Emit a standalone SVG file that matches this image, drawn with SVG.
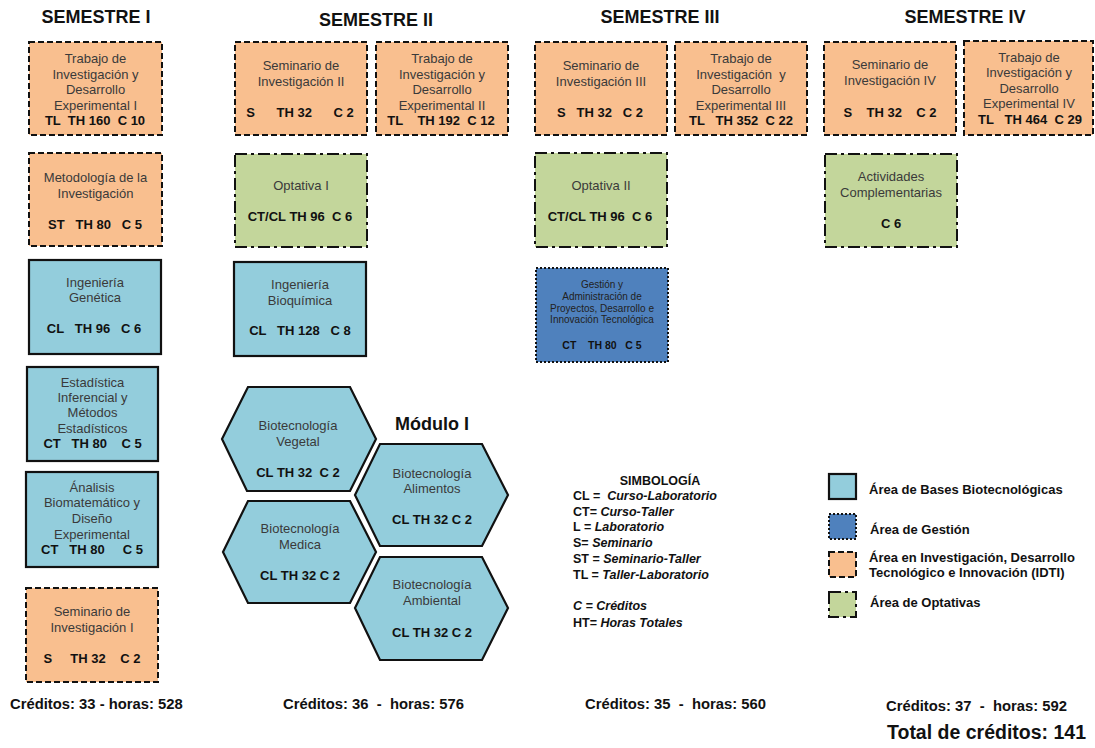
<svg xmlns="http://www.w3.org/2000/svg" width="1095" height="748" viewBox="0 0 1095 748">
<style>
text{font-family:"Liberation Sans",Arial,sans-serif}
.t{font-size:13px;fill:#3a3a3a;text-anchor:middle}
.b{font-size:13px;font-weight:bold;fill:#111;text-anchor:middle;white-space:pre}
.h{font-size:18px;font-weight:bold;fill:#111;text-anchor:middle}
.f{font-size:14.8px;font-weight:bold;fill:#111;white-space:pre}
.s{font-size:12.5px;font-weight:bold;fill:#111;white-space:pre}
.s tspan.i{font-style:italic}
.lg{font-size:13px;font-weight:bold;fill:#111}
.idti{fill:#F9BF8F;stroke:#111;stroke-width:2;stroke-dasharray:6 3}
.base{fill:#93CDDC;stroke:#111;stroke-width:2.2}
.opt{fill:#C3D69B;stroke:#111;stroke-width:2;stroke-dasharray:12 4 3 4}
.gest{fill:#4F81BD;stroke:#111;stroke-width:2;stroke-dasharray:2 2}
.g{font-size:10px;fill:#222;text-anchor:middle}
.gb{font-size:10.5px;font-weight:bold;fill:#111;text-anchor:middle;white-space:pre}
</style>

<g id="titles">
<text class="h" x="96" y="23">SEMESTRE I</text>
<text class="h" x="376" y="26">SEMESTRE II</text>
<text class="h" x="660" y="23">SEMESTRE III</text>
<text class="h" x="965" y="23">SEMESTRE IV</text>
</g>

<!-- Semestre I -->
<g id="s1-trabajo">
<rect class="idti" x="29" y="42" width="133" height="93"/>
<text class="t" x="95.5" y="63">Trabajo de</text>
<text class="t" x="95.5" y="79">Investigación y</text>
<text class="t" x="95.5" y="94">Desarrollo</text>
<text class="t" x="95.5" y="110">Experimental I</text>
<text class="b" x="95" y="125">TL  TH 160  C 10</text>
</g>
<g id="s1-metodologia">
<rect class="idti" x="29" y="153" width="133" height="93"/>
<text class="t" x="95.5" y="182">Metodología de la</text>
<text class="t" x="95.5" y="198">Investigación</text>
<text class="b" x="95" y="229">ST   TH 80   C 5</text>
</g>
<g id="s1-genetica">
<rect class="base" x="29" y="260" width="132" height="94"/>
<text class="t" x="95" y="287">Ingeniería</text>
<text class="t" x="95" y="302">Genética</text>
<text class="b" x="94" y="333">CL   TH 96   C 6</text>
</g>
<g id="s1-estadistica">
<rect class="base" x="27" y="367" width="131" height="94"/>
<text class="t" x="92.5" y="387">Estadística</text>
<text class="t" x="92.5" y="402">Inferencial y</text>
<text class="t" x="92.5" y="417">Métodos</text>
<text class="t" x="92.5" y="433">Estadísticos</text>
<text class="b" x="92.5" y="448">CT   TH 80    C 5</text>
</g>
<g id="s1-analisis">
<rect class="base" x="26" y="472" width="132" height="95"/>
<text class="t" x="92" y="492">Ánalisis</text>
<text class="t" x="92" y="507">Biomatemático y</text>
<text class="t" x="92" y="523">Diseño</text>
<text class="t" x="92" y="539">Experimental</text>
<text class="b" x="92" y="554">CT   TH 80     C 5</text>
</g>
<g id="s1-seminario">
<rect class="idti" x="26" y="588" width="132" height="94"/>
<text class="t" x="92" y="616">Seminario de</text>
<text class="t" x="92" y="632">Investigación I</text>
<text class="b" x="92" y="663">S     TH 32    C 2</text>
</g>

<!-- Semestre II -->
<g id="s2-seminario">
<rect class="idti" x="235" y="42" width="132" height="93"/>
<text class="t" x="301" y="70">Seminario de</text>
<text class="t" x="301" y="86">Investigación II</text>
<text class="b" x="300" y="117">S      TH 32      C 2</text>
</g>
<g id="s2-trabajo">
<rect class="idti" x="376" y="42" width="132" height="93"/>
<text class="t" x="442" y="63">Trabajo de</text>
<text class="t" x="442" y="79">Investigación y</text>
<text class="t" x="442" y="94">Desarrollo</text>
<text class="t" x="442" y="110">Experimental II</text>
<text class="b" x="441" y="125">TL    TH 192  C 12</text>
</g>
<g id="s2-optativa">
<rect class="opt" x="235" y="154" width="132" height="93"/>
<text class="t" x="301" y="190">Optativa I</text>
<text class="b" x="300" y="221">CT/CL TH 96  C 6</text>
</g>
<g id="s2-bioquimica">
<rect class="base" x="234" y="262" width="132" height="94"/>
<text class="t" x="300" y="289">Ingeniería</text>
<text class="t" x="300" y="305">Bioquímica</text>
<text class="b" x="300" y="335">CL   TH 128   C 8</text>
</g>

<text class="h" x="432" y="430">Módulo I</text>
<g id="hex-vegetal">
<polygon class="base" points="248,387 350,387 376,439 350,491 247,491 222,439"/>
<text class="t" x="298" y="430">Biotecnología</text>
<text class="t" x="298" y="446">Vegetal</text>
<text class="b" x="298" y="477">CL TH 32  C 2</text>
</g>
<g id="hex-alimentos">
<polygon class="base" points="380,444 482,444 508,495 482,546 380,546 355,495"/>
<text class="t" x="432" y="478">Biotecnología</text>
<text class="t" x="432" y="493">Alimentos</text>
<text class="b" x="432" y="524">CL TH 32 C 2</text>
</g>
<g id="hex-medica">
<polygon class="base" points="248,501 350,501 376,552 350,603 248,603 223,552"/>
<text class="t" x="300" y="533">Biotecnología</text>
<text class="t" x="300" y="549">Medica</text>
<text class="b" x="300" y="580">CL TH 32 C 2</text>
</g>
<g id="hex-ambiental">
<polygon class="base" points="380,557 482,557 508,608 482,660 380,660 355,608"/>
<text class="t" x="432" y="589">Biotecnología</text>
<text class="t" x="432" y="605">Ambiental</text>
<text class="b" x="432" y="637">CL TH 32 C 2</text>
</g>

<!-- Semestre III -->
<g id="s3-seminario">
<rect class="idti" x="535" y="42" width="132" height="93"/>
<text class="t" x="601" y="70">Seminario de</text>
<text class="t" x="601" y="86">Investigación III</text>
<text class="b" x="600" y="117">S   TH 32   C 2</text>
</g>
<g id="s3-trabajo">
<rect class="idti" x="675" y="42" width="132" height="93"/>
<text class="t" x="741" y="63">Trabajo de</text>
<text class="t" x="741" y="79" style="white-space:pre">Investigación  y</text>
<text class="t" x="741" y="94">Desarrollo</text>
<text class="t" x="741" y="110">Experimental III</text>
<text class="b" x="741" y="125">TL   TH 352  C 22</text>
</g>
<g id="s3-optativa">
<rect class="opt" x="535" y="153" width="132" height="94"/>
<text class="t" x="601" y="190">Optativa II</text>
<text class="b" x="600" y="221">CT/CL TH 96  C 6</text>
</g>
<g id="s3-gestion">
<rect class="gest" x="536" y="268" width="132" height="94"/>
<text class="g" x="602" y="288">Gestión y</text>
<text class="g" x="602" y="300">Administración de</text>
<text class="g" x="602" y="312">Proyectos, Desarrollo e</text>
<text class="g" x="602" y="323">Innovación Tecnológica</text>
<text class="gb" x="602" y="349">CT    TH 80   C 5</text>
</g>

<!-- Semestre IV -->
<g id="s4-seminario">
<rect class="idti" x="824" y="42" width="132" height="93"/>
<text class="t" x="890" y="69">Seminario de</text>
<text class="t" x="890" y="85">Investigación IV</text>
<text class="b" x="890" y="117">S    TH 32    C 2</text>
</g>
<g id="s4-trabajo">
<rect class="idti" x="964" y="41" width="129" height="94"/>
<text class="t" x="1029" y="62">Trabajo de</text>
<text class="t" x="1029" y="77">Investigación y</text>
<text class="t" x="1029" y="93">Desarrollo</text>
<text class="t" x="1029" y="108">Experimental IV</text>
<text class="b" x="1030" y="124">TL   TH 464  C 29</text>
</g>
<g id="s4-actividades">
<rect class="opt" x="825" y="154" width="132" height="93"/>
<text class="t" x="891" y="181">Actividades</text>
<text class="t" x="891" y="197">Complementarias</text>
<text class="b" x="891" y="228">C 6</text>
</g>

<!-- Simbología -->
<g id="simbologia">
<text class="s" x="660" y="485" text-anchor="middle">SIMBOLOGÍA</text>
<text class="s" x="573" y="500">CL =  <tspan class="i">Curso-Laboratorio</tspan></text>
<text class="s" x="573" y="516">CT= <tspan class="i">Curso-Taller</tspan></text>
<text class="s" x="573" y="531">L = <tspan class="i">Laboratorio</tspan></text>
<text class="s" x="573" y="547">S= <tspan class="i">Seminario</tspan></text>
<text class="s" x="573" y="563">ST = <tspan class="i">Seminario-Taller</tspan></text>
<text class="s" x="573" y="579">TL = <tspan class="i">Taller-Laboratorio</tspan></text>
<text class="s" x="573" y="610"><tspan class="i">C = Créditos</tspan></text>
<text class="s" x="573" y="627">HT= <tspan class="i">Horas Totales</tspan></text>
</g>

<!-- Leyenda -->
<g id="legend">
<rect class="base" x="829" y="474" width="27" height="25"/>
<text class="lg" x="869" y="494">Área de Bases Biotecnológicas</text>
<rect class="gest" x="829" y="514" width="27" height="25"/>
<text class="lg" x="870" y="534">Área de Gestión</text>
<rect class="idti" x="829" y="552" width="27" height="25"/>
<text class="lg" x="869" y="562">Área en Investigación, Desarrollo</text>
<text class="lg" x="869" y="577">Tecnológico e Innovación (IDTI)</text>
<rect class="opt" x="829" y="592" width="27" height="25"/>
<text class="lg" x="870" y="607">Área de Optativas</text>
</g>

<!-- Totales -->
<g id="totals">
<text class="f" x="10" y="709">Créditos: 33 - horas: 528</text>
<text class="f" x="283" y="709">Créditos: 36  -  horas: 576</text>
<text class="f" x="585" y="709">Créditos: 35  -  horas: 560</text>
<text class="f" x="886" y="711">Créditos: 37  -  horas: 592</text>
<text x="887" y="739" style="font-size:19.5px;font-weight:bold;fill:#111">Total de créditos: 141</text>
</g>
</svg>
